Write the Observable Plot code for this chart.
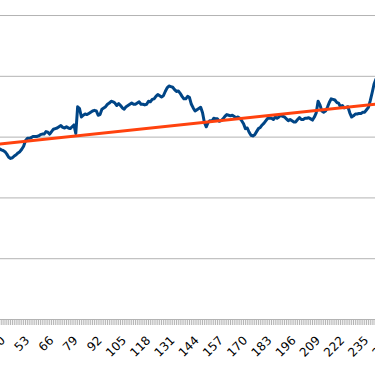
<!DOCTYPE html>
<html><head><meta charset="utf-8">
<script src="https://cdn.jsdelivr.net/npm/d3@7"></script>
<script src="https://cdn.jsdelivr.net/npm/@observablehq/plot@0.6"></script>
<style>html,body{margin:0;padding:0;background:#fff;overflow:hidden}#chart{width:375px;height:366px;overflow:hidden}</style>
</head><body><div id="chart"></div>
<script>
// first category index shown in the series
const firstIndex = 38;
// series values for categories 38 .. 240
const seriesValues = [
  28.1,27.9,27.8,27.6,27.2,26.7,26.5,26.6,26.9,27.1,
  27.4,27.6,28.0,28.5,29.4,29.8,29.8,29.9,30.1,30.1,
  30.1,30.2,30.4,30.5,30.5,30.9,30.8,30.5,30.9,31.3,
  31.4,31.5,31.7,31.9,31.6,31.5,31.7,31.5,31.4,31.7,
  32.0,30.6,35.0,34.7,33.3,33.6,33.8,33.7,33.9,34.1,
  34.3,34.4,34.3,33.6,33.7,34.6,34.8,35.0,35.4,35.6,
  35.9,35.8,35.6,35.2,35.5,35.2,34.8,34.6,35.0,35.2,
  35.4,35.6,35.4,35.4,35.6,35.8,35.4,35.4,35.3,35.4,
  35.9,35.8,36.2,36.3,36.7,37.0,36.8,36.6,36.8,37.5,
  38.1,38.4,38.3,38.2,37.8,37.5,37.6,37.2,36.7,36.3,
  36.3,36.7,36.5,35.4,34.8,34.3,34.5,34.7,34.9,34.0,
  32.4,31.7,32.4,32.7,32.6,33.1,33.0,33.0,32.6,32.7,
  33.0,33.4,33.7,33.6,33.5,33.6,33.4,33.2,33.3,33.1,
  32.7,32.2,31.4,31.5,30.8,30.3,30.2,30.4,30.9,31.4,
  31.6,32.0,32.3,32.7,33.1,33.1,33.1,32.9,33.3,33.1,
  33.3,33.6,33.4,33.3,33.0,32.7,32.9,32.7,32.5,32.5,
  32.9,33.2,32.9,32.9,33.1,33.1,33.2,33.0,32.8,33.3,
  34.0,35.9,35.3,34.3,34.1,34.3,34.9,35.7,36.3,36.2,
  36.1,35.7,35.6,35.0,35.2,34.8,34.9,35.0,34.0,33.3,
  33.5,33.8,33.8,33.9,33.9,34.1,34.1,34.5,34.9,36.0,
  37.3,38.7,39.5
];
// linear trend line end points
const trendIndex = [38, 241];
const trendValues = [28.86, 35.47];
// horizontal grid values
const gridValues = [0, 10, 20, 30, 40, 50];
// labelled categories
const tickLabels = [40, 53, 66, 79, 92, 105, 118, 131, 144, 157, 170, 183, 196, 209, 222, 235, 248];
// one minor tick per category
const minorTicks = d3.range(1, 260);

const series = seriesValues.map((v, i) => ({index: firstIndex + i, value: v}));
const trend = trendIndex.map((x, i) => ({index: x, value: trendValues[i]}));

const chart = Plot.plot({
  width: 375, height: 366,
  marginLeft: 0, marginRight: 0, marginTop: 0, marginBottom: 47,
  style: {fontFamily: "DejaVu Sans", fontSize: "12px", background: "#fff", overflow: "hidden", color: "#000"},
  x: {type: "linear", domain: [38.6, 239.8], label: null},
  y: {domain: [0, 52.47], axis: null},
  marks: [
    Plot.ruleY(gridValues, {stroke: "#b3b3b3", strokeWidth: 1}),
    Plot.axisX({ticks: minorTicks, tickSize: 6, tickFormat: () => "", stroke: "#b3b3b3", strokeOpacity: 1, label: null}),
    Plot.axisX({ticks: tickLabels, tickSize: 0, tickPadding: 19, tickRotate: -45, tickFormat: d => String(d), fill: "#000", label: null}),
    Plot.line(series, {x: "index", y: "value", stroke: "#004586", strokeWidth: 3}),
    Plot.line(trend, {x: "index", y: "value", stroke: "#ff420e", strokeWidth: 3})
  ]
});
document.getElementById("chart").appendChild(chart);
</script>
</body></html>
